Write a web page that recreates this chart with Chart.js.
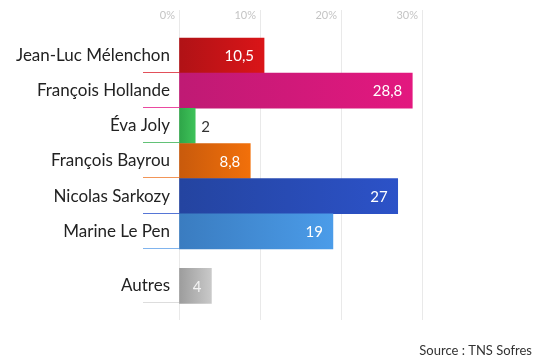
<!DOCTYPE html>
<html>
<head>
<meta charset="utf-8">
<script src="https://cdn.jsdelivr.net/npm/chart.js@4"></script>
<style>
  html, body { margin: 0; padding: 0; background: #ffffff; }
  #wrap { width: 550px; height: 363px; }
</style>
</head>
<body>
<div id="wrap"><canvas id="c" width="550" height="363"></canvas></div>
<script>
const categories = ['Jean-Luc Mélenchon', 'François Hollande', 'Éva Joly', 'François Bayrou', 'Nicolas Sarkozy', 'Marine Le Pen', 'Autres'];
const values = [10.5, 28.8, 2, 8.8, 27, 19, 4];
const valueLabels = ['10,5', '28,8', '2', '8,8', '27', '19', '4'];
const xTicks = [0, 10, 20, 30];
const sourceText = 'Source : TNS Sofres';

const gradStart = ['#b01216', '#bf1a74', '#2ea548', '#c85a0c', '#2444a0', '#3a7cc0', '#9c9c9c'];
const gradEnd   = ['#da1518', '#e3187f', '#3ec259', '#f2700a', '#2c52c8', '#4b9ce9', '#c9c9c9'];
const lineColors = ['#e2505a', '#ea4aa0', '#62c277', '#f29558', '#5676d6', '#80b4ee', '#dddddd'];
const labelColors = ['#ffffff', '#ffffff', '#333333', '#ffffff', '#ffffff', '#ffffff', '#f4f4f4'];

// index position on the vertical axis (extra gap before "Autres")
function pos(i) { return i + (i >= 6 ? 0.55 : 0); }
const positions = categories.map((_, i) => pos(i));
const BAR = 35;

const FONT = 'Lato, "Open Sans", sans-serif';

const extras = {
  id: 'extras',
  afterDatasetsDraw(chart) {
    const ctx = chart.ctx;
    const xs = chart.scales.x, ys = chart.scales.y;
    ctx.save();
    categories.forEach((c, i) => {
      const yc = ys.getPixelForValue(positions[i]);
      const bottom = Math.round(yc + BAR / 2) - 0.5;
      // separator line under label
      ctx.strokeStyle = lineColors[i];
      ctx.lineWidth = 1;
      ctx.beginPath();
      ctx.moveTo(143, bottom);
      ctx.lineTo(xs.left, bottom);
      ctx.stroke();
      // value label
      const xe = xs.getPixelForValue(values[i]);
      ctx.font = '15px ' + FONT;
      ctx.textBaseline = 'middle';
      ctx.fillStyle = labelColors[i];
      if (i === 2) {
        ctx.textAlign = 'left';
        ctx.fillText(valueLabels[i], xe + 6, yc + 1);
      } else {
        ctx.textAlign = 'right';
        ctx.fillText(valueLabels[i], xe - 10, yc + 1);
      }
    });
    ctx.font = '13px ' + FONT;
    ctx.fillStyle = '#333333';
    ctx.textAlign = 'right';
    ctx.textBaseline = 'middle';
    ctx.fillText(sourceText, 532, 351);
    ctx.restore();
  }
};

function barColor(context) {
  const chart = context.chart;
  const i = context.dataIndex;
  if (!chart.chartArea || !chart.scales.x) return gradEnd[i];
  const xs = chart.scales.x;
  const x0 = xs.getPixelForValue(0);
  const x1 = xs.getPixelForValue(values[i]);
  const g = chart.ctx.createLinearGradient(x0, 0, x1, 0);
  g.addColorStop(0, gradStart[i]);
  g.addColorStop(1, gradEnd[i]);
  return g;
}

new Chart(document.getElementById('c'), {
  type: 'bar',
  data: {
    datasets: [{
      data: values.map((v, i) => ({ x: v, y: positions[i] })),
      backgroundColor: barColor,
      borderWidth: 0,
      barThickness: BAR
    }]
  },
  options: {
    indexAxis: 'y',
    responsive: false,
    devicePixelRatio: 1,
    animation: false,
    layout: { padding: { top: 0, right: 128, bottom: 43, left: 0 } },
    plugins: { legend: { display: false }, tooltip: { enabled: false } },
    scales: {
      x: {
        type: 'linear',
        position: 'top',
        min: 0, max: 30,
        afterBuildTicks: (s) => { s.ticks = xTicks.map(v => ({ value: v })); },
        afterFit: (s) => { s.height = 37; },
        border: { display: false },
        grid: { color: '#e9e9e9', tickColor: '#e9e9e9', tickLength: 27, drawTicks: true },
        ticks: {
          align: 'end',
          labelOffset: -4,
          padding: -12,
          color: '#c4c4c4',
          font: { family: FONT, size: 11 },
          callback: (v) => v + '%'
        }
      },
      y: {
        type: 'linear',
        reverse: true,
        offset: false,
        min: -0.525, max: 7.52,
        afterBuildTicks: (s) => { s.ticks = positions.map(v => ({ value: v })); },
        afterFit: (s) => { s.width = 179; },
        border: { display: false },
        grid: { display: false, drawTicks: false, offset: false },
        ticks: {
          padding: 9,
          color: '#222222',
          font: { family: FONT, size: 17 },
          callback: (v) => { const k = positions.indexOf(v); return k >= 0 ? categories[k] : ''; }
        }
      }
    }
  },
  plugins: [extras]
});
</script>
</body>
</html>
